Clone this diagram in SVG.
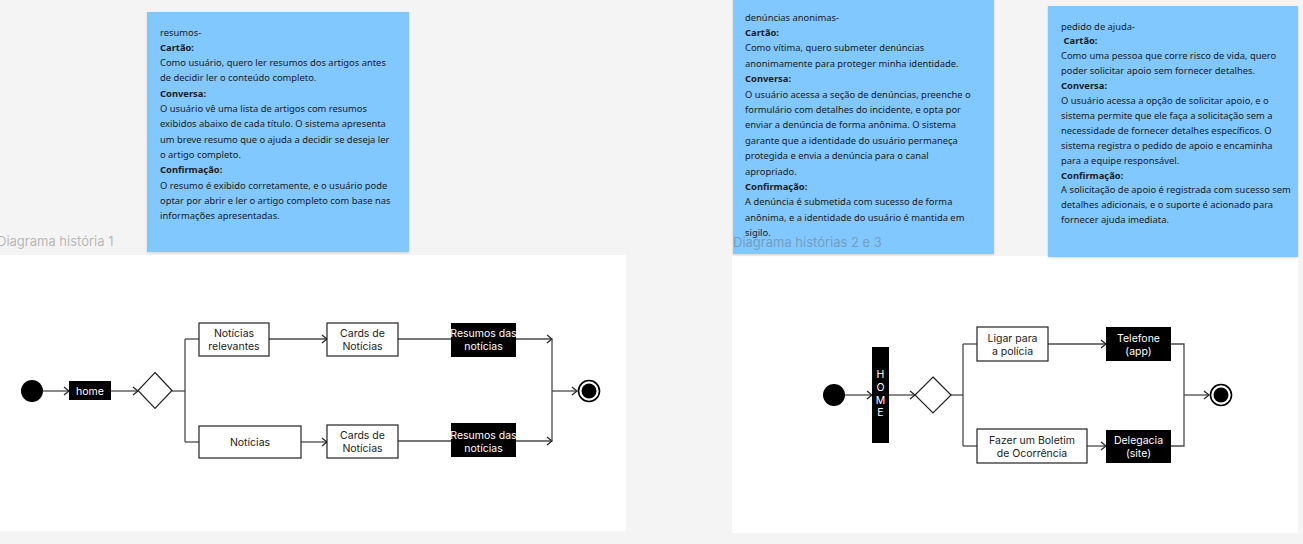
<svg xmlns="http://www.w3.org/2000/svg" width="1303" height="544" viewBox="0 0 1303 544">
<style>
.note{fill:#80c8ff}
.nt{font-family:"Noto Sans",sans-serif;font-size:9.4px;fill:#1b1b1b}
.b{font-weight:bold}
.lbl{font-family:Inter,sans-serif;font-size:13px;fill:#666;fill-opacity:0.45}
.box{fill:#fff;stroke:#222;stroke-width:1.2}
.blk{fill:#000}
.bt{font-family:Inter,sans-serif;font-size:10.5px;fill:#222;text-anchor:middle}
.wt{font-family:Inter,sans-serif;font-size:10.5px;fill:#fff;text-anchor:middle}
.ln{fill:none;stroke:#4a4a4a;stroke-width:1.3}
.dia{fill:#fff;stroke:#222;stroke-width:1.2}
</style>
<defs>
<marker id="arr" markerUnits="userSpaceOnUse" markerWidth="8" markerHeight="10" refX="6" refY="5" orient="auto">
<path d="M1,1 L6,5 L1,9" fill="none" stroke="#222" stroke-width="1.2"/>
</marker>
<filter id="sh" x="-5%" y="-5%" width="110%" height="110%">
<feDropShadow dx="0" dy="1" stdDeviation="1" flood-color="#000" flood-opacity="0.15"/>
</filter>
</defs>
<rect width="1303" height="544" fill="#f4f4f4"/>
<rect x="0" y="255" width="626" height="276" fill="#fff"/>
<rect x="732" y="256" width="566" height="277" fill="#fff"/>

<g id="note1">
<rect class="note" x="147" y="12" width="262" height="240" filter="url(#sh)"/>
<text class="nt" x="160" y="35.5">resumos-</text>
<text class="nt b" x="160" y="50.8">Cartão:</text>
<text class="nt" x="160" y="66.1">Como usuário, quero ler resumos dos artigos antes</text>
<text class="nt" x="160" y="81.4">de decidir ler o conteúdo completo.</text>
<text class="nt b" x="160" y="96.7">Conversa:</text>
<text class="nt" x="160" y="112">O usuário vê uma lista de artigos com resumos</text>
<text class="nt" x="160" y="127.3">exibidos abaixo de cada título. O sistema apresenta</text>
<text class="nt" x="160" y="142.6">um breve resumo que o ajuda a decidir se deseja ler</text>
<text class="nt" x="160" y="157.9">o artigo completo.</text>
<text class="nt b" x="160" y="173.2">Confirmação:</text>
<text class="nt" x="160" y="188.5">O resumo é exibido corretamente, e o usuário pode</text>
<text class="nt" x="160" y="203.8">optar por abrir e ler o artigo completo com base nas</text>
<text class="nt" x="160" y="219.1">informações apresentadas.</text>
</g>

<g id="note2">
<rect class="note" x="733" y="-5" width="261" height="259" filter="url(#sh)"/>
<text class="nt" x="745" y="20.5">denúncias anonimas-</text>
<text class="nt b" x="745" y="35.9">Cartão:</text>
<text class="nt" x="745" y="51.3">Como vítima, quero submeter denúncias</text>
<text class="nt" x="745" y="66.7">anonimamente para proteger minha identidade.</text>
<text class="nt b" x="745" y="82.1">Conversa:</text>
<text class="nt" x="745" y="97.5">O usuário acessa a seção de denúncias, preenche o</text>
<text class="nt" x="745" y="112.9">formulário com detalhes do incidente, e opta por</text>
<text class="nt" x="745" y="128.3">enviar a denúncia de forma anônima. O sistema</text>
<text class="nt" x="745" y="143.7">garante que a identidade do usuário permaneça</text>
<text class="nt" x="745" y="159.1">protegida e envia a denúncia para o canal</text>
<text class="nt" x="745" y="174.5">apropriado.</text>
<text class="nt b" x="745" y="189.9">Confirmação:</text>
<text class="nt" x="745" y="205.3">A denúncia é submetida com sucesso de forma</text>
<text class="nt" x="745" y="220.7">anônima, e a identidade do usuário é mantida em</text>
<text class="nt" x="745" y="236.1">sigilo.</text>
</g>

<g id="note3">
<rect class="note" x="1048" y="6" width="250" height="251" filter="url(#sh)"/>
<text class="nt" x="1061" y="29.5">pedido de ajuda-</text>
<text class="nt b" x="1063.5" y="44.4">Cartão:</text>
<text class="nt" x="1061" y="59.3">Como uma pessoa que corre risco de vida, quero</text>
<text class="nt" x="1061" y="74.2">poder solicitar apoio sem fornecer detalhes.</text>
<text class="nt b" x="1061" y="89.1">Conversa:</text>
<text class="nt" x="1061" y="104">O usuário acessa a opção de solicitar apoio, e o</text>
<text class="nt" x="1061" y="118.9">sistema permite que ele faça a solicitação sem a</text>
<text class="nt" x="1061" y="133.8">necessidade de fornecer detalhes específicos. O</text>
<text class="nt" x="1061" y="148.7">sistema registra o pedido de apoio e encaminha</text>
<text class="nt" x="1061" y="163.6">para a equipe responsável.</text>
<text class="nt b" x="1061" y="178.5">Confirmação:</text>
<text class="nt" x="1061" y="193.4">A solicitação de apoio é registrada com sucesso sem</text>
<text class="nt" x="1061" y="208.3">detalhes adicionais, e o suporte é acionado para</text>
<text class="nt" x="1061" y="223.2">fornecer ajuda imediata.</text>
</g>

<g id="label1"><text class="lbl" x="-3" y="246">Diagrama história 1</text></g>
<g id="label2"><text class="lbl" x="733" y="247">Diagrama histórias 2 e 3</text></g>

<g id="connectors">
<path class="ln" d="M43,391 H69" marker-end="url(#arr)"/>
<path class="ln" d="M111,391 H138" marker-end="url(#arr)"/>
<path class="ln" d="M172,391 H185"/>
<path class="ln" d="M185,339 V442"/>
<path class="ln" d="M185,339 H199"/>
<path class="ln" d="M185,442 H199"/>
<path class="ln" d="M269,339 H327" marker-end="url(#arr)"/>
<path class="ln" d="M301,442 H327" marker-end="url(#arr)"/>
<path class="ln" d="M398,339 H451"/>
<path class="ln" d="M398,441 H451"/>
<path class="ln" d="M516,339 H552" marker-end="url(#arr)"/>
<path class="ln" d="M516,441 H552" marker-end="url(#arr)"/>
<path class="ln" d="M552,339 V441"/>
<path class="ln" d="M552,391 H577" marker-end="url(#arr)"/>

<path class="ln" d="M845,395 H872" marker-end="url(#arr)"/>
<path class="ln" d="M889,395 H915" marker-end="url(#arr)"/>
<path class="ln" d="M951,395 H963"/>
<path class="ln" d="M963,344 V446"/>
<path class="ln" d="M963,344 H977"/>
<path class="ln" d="M963,446 H977"/>
<path class="ln" d="M1048,344 H1106" marker-end="url(#arr)"/>
<path class="ln" d="M1087,446 H1106" marker-end="url(#arr)"/>
<path class="ln" d="M1171,344 H1184 V446 H1171"/>
<path class="ln" d="M1184,395 H1209" marker-end="url(#arr)"/>
</g>

<g id="start1"><circle cx="32" cy="391" r="11" fill="#000"/></g>
<g id="home"><rect class="blk" x="69" y="381" width="42" height="19"/><text class="wt" x="90" y="394.5">home</text></g>
<g id="decision1"><path class="dia" d="M155,372.5 L172,390.5 L155,408.5 L138,390.5 Z"/></g>
<g id="noticias-relevantes"><rect class="box" x="199" y="323" width="70" height="33"/><text class="bt" x="234" y="337">Notícias</text><text class="bt" x="234" y="350">relevantes</text></g>
<g id="noticias"><rect class="box" x="199" y="426" width="102" height="32"/><text class="bt" x="250" y="446">Notícias</text></g>
<g id="cards1"><rect class="box" x="327" y="323" width="71" height="33"/><text class="bt" x="362.5" y="337">Cards de</text><text class="bt" x="362.5" y="350">Notícias</text></g>
<g id="cards2"><rect class="box" x="327" y="425" width="71" height="33"/><text class="bt" x="362.5" y="439">Cards de</text><text class="bt" x="362.5" y="452">Notícias</text></g>
<g id="resumos1"><rect class="blk" x="451" y="323" width="65" height="34"/><text class="wt" x="483.5" y="337">Resumos das</text><text class="wt" x="483.5" y="350">notícias</text></g>
<g id="resumos2"><rect class="blk" x="451" y="423" width="65" height="34"/><text class="wt" x="483.5" y="439">Resumos das</text><text class="wt" x="483.5" y="452">notícias</text></g>
<g id="end1"><circle cx="589" cy="391" r="10.5" fill="#fff" stroke="#000" stroke-width="1.6"/><circle cx="589" cy="391" r="7.5" fill="#000"/></g>

<g id="start2"><circle cx="834" cy="395" r="11" fill="#000"/></g>
<g id="home2"><rect class="blk" x="872" y="347" width="17" height="96"/>
<text class="wt" x="880.5" y="378">H</text><text class="wt" x="880.5" y="391">O</text><text class="wt" x="880.5" y="404">M</text><text class="wt" x="880.5" y="416">E</text></g>
<g id="decision2"><path class="dia" d="M933,377 L951,395 L933,413 L915,395 Z"/></g>
<g id="ligar"><rect class="box" x="977" y="327" width="71" height="34"/><text class="bt" x="1012.5" y="342">Ligar para</text><text class="bt" x="1012.5" y="355">a polícia</text></g>
<g id="boletim"><rect class="box" x="977" y="429" width="110" height="34"/><text class="bt" x="1032" y="444">Fazer um Boletim</text><text class="bt" x="1032" y="457">de Ocorrência</text></g>
<g id="telefone"><rect class="blk" x="1106" y="327" width="65" height="34"/><text class="wt" x="1138.5" y="342">Telefone</text><text class="wt" x="1138.5" y="355">(app)</text></g>
<g id="delegacia"><rect class="blk" x="1106" y="430" width="65" height="33"/><text class="wt" x="1138.5" y="444">Delegacia</text><text class="wt" x="1138.5" y="457">(site)</text></g>
<g id="end2"><circle cx="1221" cy="395" r="10.5" fill="#fff" stroke="#000" stroke-width="1.6"/><circle cx="1221" cy="395" r="7.5" fill="#000"/></g>
</svg>
